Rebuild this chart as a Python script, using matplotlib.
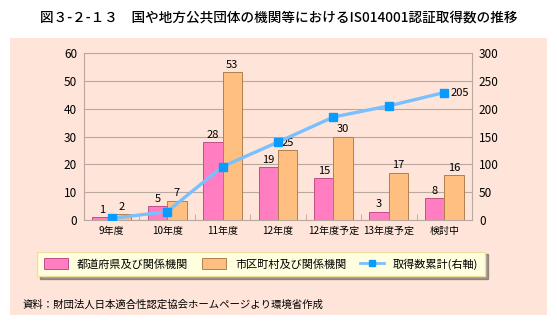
import numpy as np
import matplotlib.pyplot as plt
from matplotlib.patches import Rectangle
from matplotlib.lines import Line2D

plt.rcParams['font.family'] = ['Noto Sans CJK JP', 'DejaVu Sans']

categories = ["9年度", "10年度", "11年度", "12年度", "12年度予定", "13年度予定", "検討中"]
pref = [1, 5, 28, 19, 15, 3, 8]
city = [2, 7, 53, 25, 30, 17, 16]
cumulative = [3, 15, 96, 140, 185, 205, 229]
last_label = "205"

bg = "#FFE5D9"
pink = "#FF7DC0"
orange = "#FFBF80"

fig = plt.figure(figsize=(5.57, 3.25), dpi=100)
fig.patch.set_facecolor("white")
fig.patches.append(Rectangle((10 / 557, 1 - 315 / 325), 537 / 557, 277 / 325,
                             transform=fig.transFigure, facecolor=bg, edgecolor="none", zorder=-5))

fig.text(0.5, 1 - 18 / 325, "図３-２-１３　国や地方公共団体の機関等におけるIS014001認証取得数の推移",
         ha="center", va="center", fontsize=9.8, weight="medium")

ax = fig.add_axes([84 / 557, 1 - 220 / 325, 388 / 557, 167 / 325])
ax.set_facecolor(bg)
x = np.arange(len(categories))
w = 0.35
ax.bar(x - w / 2, pref, w, color=pink, edgecolor="#C0508A", linewidth=0.7, zorder=2)
ax.bar(x + w / 2, city, w, color=orange, edgecolor="#B08050", linewidth=0.7, zorder=2)
for xi, v in zip(x - w / 2, pref):
    ax.text(xi, v + 0.8, str(v), ha="center", va="bottom", fontsize=8)
for xi, v in zip(x + w / 2, city):
    ax.text(xi, v + 0.8, str(v), ha="center", va="bottom", fontsize=8)

ax.set_xlim(-0.5, len(categories) - 0.5)
ax.set_ylim(0, 60)
ax.set_yticks(range(0, 61, 10))
ax.yaxis.grid(True, color="#B8A8A0", linewidth=0.8, zorder=0)
ax.set_axisbelow(True)
ax.set_xticks(x)
ax.set_xticklabels(categories, fontsize=7.2)
ax.set_xticks(np.arange(-0.5, len(categories), 1), minor=True)
ax.tick_params(axis="x", which="major", length=0, pad=4)
ax.tick_params(axis="x", which="minor", length=4, direction="in", color="#B8A8A0")
ax.tick_params(axis="y", length=0, labelsize=8.5, pad=5)
for s in ax.spines.values():
    s.set_color("#B8A8A0")
    s.set_linewidth(0.8)

ax2 = ax.twinx()
ax2.set_ylim(0, 300)
ax2.set_yticks(range(0, 301, 50))
ax2.tick_params(axis="y", length=0, labelsize=8.5, pad=5)
for s in ax2.spines.values():
    s.set_visible(False)
ax2.plot(x, cumulative, color="#7AC0FF", linewidth=2.4, marker="s", markersize=6,
         markerfacecolor="#0A9BFF", markeredgecolor="#0A9BFF", zorder=3)
ax2.text(x[-1] + 0.12, cumulative[-1], last_label, ha="left", va="center", fontsize=8)

handles = [Rectangle((0, 0), 1, 1, facecolor=pink, edgecolor="#C0508A", linewidth=0.7),
           Rectangle((0, 0), 1, 1, facecolor=orange, edgecolor="#B08050", linewidth=0.7),
           Line2D([], [], color="#7AC0FF", linewidth=2, marker="s", markersize=5,
                  markerfacecolor="#0A9BFF", markeredgecolor="#0A9BFF")]
labels = ["都道府県及び関係機関", "市区町村及び関係機関", "取得数累計(右軸)"]
leg = fig.legend(handles, labels, loc="center", bbox_to_anchor=(261 / 557, 1 - 264 / 325),
                 ncol=3, fontsize=8, frameon=True, fancybox=False, shadow=True,
                 handlelength=2.2, handleheight=1.1, columnspacing=1.2, borderpad=0.6,
                 handletextpad=0.8)
leg.get_frame().set_facecolor("#FFFFE0")
leg.get_frame().set_edgecolor("#F0E0A0")

fig.text(23 / 557, 1 - 305 / 325, "資料：財団法人日本適合性認定協会ホームページより環境省作成",
         ha="left", va="center", fontsize=7.5)

fig.savefig("out.png", dpi=100)
